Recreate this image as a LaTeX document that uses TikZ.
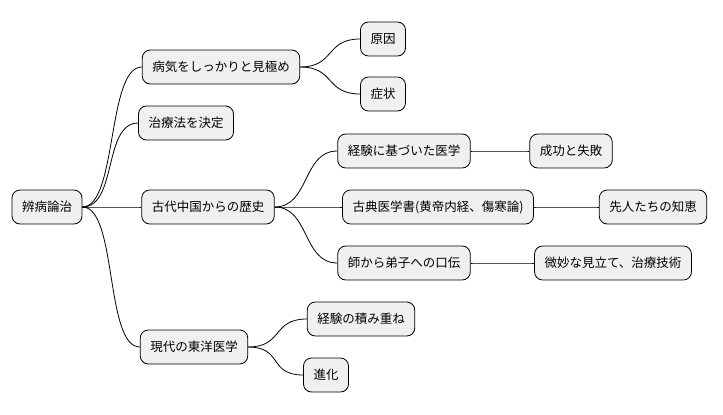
\documentclass[tikz,border=0pt]{standalone}
\usepackage{fontspec}
\setmainfont{Noto Sans CJK JP}
\begin{document}
\begin{tikzpicture}[x=1pt,y=-1pt,
  box/.style={draw=black,line width=0.8pt,fill=black!6,rounded corners=8pt,minimum height=34pt,inner xsep=10pt,font=\fontsize{12.5}{14}\selectfont},
  ln/.style={draw=black,line width=0.8pt}]
\useasboundingbox (0,0) rectangle (723,415);
\node[box] (r) at (47,207) {辨病論治};
\node[box] (a) at (221,67) {病気をしっかりと見極め};
\node[box] (a1) at (383,39) {原因};
\node[box] (a2) at (383,94) {症状};
\node[box] (b) at (186,123) {治療法を決定};
\node[box] (c) at (208,207) {古代中国からの歴史};
\node[box] (c1) at (404,151) {経験に基づいた医学};
\node[box] (c1a) at (571,151) {成功と失敗};
\node[box] (c2) at (438,207) {古典医学書(黄帝内経、傷寒論)};
\node[box] (c2a) at (653,207) {先人たちの知恵};
\node[box] (c3) at (404,263) {師から弟子への口伝};
\node[box] (c3a) at (613,263) {微妙な見立て、治療技術};
\node[box] (d) at (194,347) {現代の東洋医学};
\node[box] (d1) at (361,319) {経験の積み重ね};
\node[box] (d2) at (326,375) {進化};
\foreach \p/\c in {r/a,r/b,r/c,r/d,a/a1,a/a2,c/c1,c/c2,c/c3,c1/c1a,c2/c2a,c3/c3a,d/d1,d/d2}
  \draw[ln] (\p.east) .. controls +(35,0) and +(-35,0) .. (\c.west);
\end{tikzpicture}
\end{document}
